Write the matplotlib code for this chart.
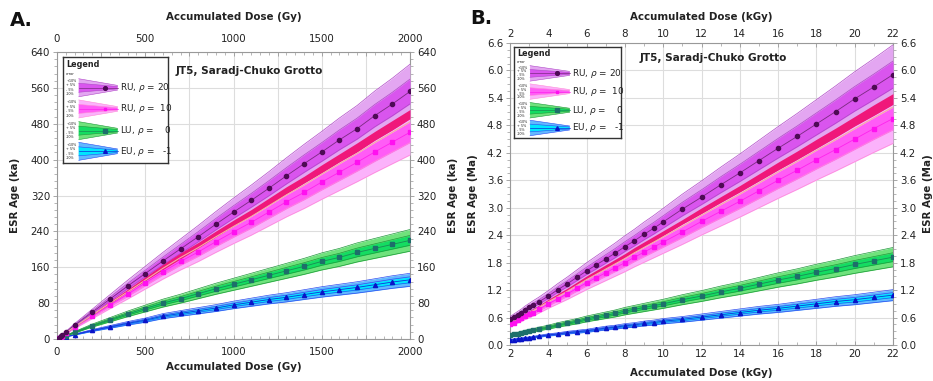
import matplotlib.pyplot as plt
import numpy as np
from matplotlib.patches import Polygon
from matplotlib.ticker import MultipleLocator, FuncFormatter

plt.rcParams['font.family'] = ['DejaVu Sans']

# ---- panel A data (dose in Gy, age in ka) ----
dose_gy = [0, 10, 20, 30, 50, 100, 200, 300, 400, 500, 600, 700, 800, 900, 1000,
           1100, 1200, 1300, 1400, 1500, 1600, 1700, 1800, 1900, 2000]
a_ru20 = [0, 3, 6, 9, 15, 31, 60, 89, 118, 146, 174, 201, 228, 256, 283,
          309, 336, 364, 391, 417, 444, 469, 498, 524, 552]
a_ru10 = [0, 2.5, 5, 7.5, 13, 26, 51, 76, 100, 125, 150, 173, 194, 217, 239,
          260, 283, 306, 327, 350, 372, 394, 417, 439, 461]
a_lu = [0, 1.5, 3, 4.5, 7.5, 15, 30, 43, 56, 68, 80, 90, 101, 112, 122,
        132, 142, 152, 162, 173, 182, 193, 202, 211, 220]
a_eu = [0, 1, 2, 3, 5, 10, 19, 27, 35, 42, 51, 57, 63, 69, 76,
        82, 88, 93, 99, 105, 110, 115, 121, 127, 132]

# ---- panel B data (dose in kGy, age in Ma) ----
dose_kgy = [2.0, 2.2, 2.4, 2.6, 2.8, 3.0, 3.2, 3.5, 4.0, 4.5, 5.0, 5.5, 6.0, 6.5, 7.0,
            7.5, 8.0, 8.5, 9.0, 9.5, 10, 11, 12, 13, 14, 15, 16, 17, 18, 19, 20, 21, 22]
b_ru20 = [0.56, 0.61, 0.66, 0.71, 0.77, 0.82, 0.87, 0.94, 1.07, 1.21, 1.34, 1.48, 1.62,
          1.75, 1.88, 2.01, 2.15, 2.28, 2.42, 2.55, 2.69, 2.97, 3.23, 3.50, 3.76, 4.03,
          4.30, 4.56, 4.83, 5.10, 5.38, 5.64, 5.91]
b_ru10 = [0.45, 0.49, 0.54, 0.58, 0.63, 0.67, 0.71, 0.78, 0.90, 1.01, 1.12, 1.24, 1.36,
          1.47, 1.58, 1.69, 1.80, 1.92, 2.03, 2.14, 2.25, 2.47, 2.70, 2.92, 3.14, 3.37,
          3.60, 3.82, 4.05, 4.27, 4.50, 4.73, 4.95]
b_lu = [0.22, 0.24, 0.25, 0.27, 0.29, 0.31, 0.32, 0.35, 0.39, 0.44, 0.48, 0.52, 0.57,
        0.61, 0.65, 0.69, 0.74, 0.78, 0.82, 0.86, 0.90, 0.99, 1.07, 1.16, 1.24, 1.33,
        1.42, 1.50, 1.59, 1.67, 1.76, 1.84, 1.92]
b_eu = [0.11, 0.12, 0.13, 0.14, 0.15, 0.16, 0.17, 0.19, 0.22, 0.24, 0.27, 0.29, 0.31,
        0.34, 0.37, 0.39, 0.42, 0.44, 0.47, 0.49, 0.52, 0.56, 0.61, 0.66, 0.71, 0.76,
        0.80, 0.85, 0.90, 0.95, 0.99, 1.04, 1.09]

labels = ['RU, $\\rho$ = 20', 'RU, $\\rho$ =  10', 'LU, $\\rho$ =    0', 'EU, $\\rho$ =   -1']
err_labels = ['+10%', '+ 5%', '- 5%', '-10%']

# style per model: outer band, inner band, edge line, centre line, marker colour, marker
styles = [
    dict(outer='#e3a6f1', inner='#d955ee', edge='#b048c8', line='#7a2a80', mc='#4e0a55', m='o', ms=3.0),
    dict(outer='#fbb2fb', inner='#ff5cf6', edge='#ff8ad8', line='#ff22ee', mc='#ff10f0', m='s', ms=2.2),
    dict(outer='#6fe27c', inner='#14dc62', edge='#1f9a3a', line='#1b8a55', mc='#1d6f6a', m='s', ms=2.8),
    dict(outer='#62b8ff', inner='#00e6ff', edge='#2c4cf0', line='#1230d8', mc='#0a14c8', m='^', ms=3.0),
]
hi10, hi5, lo5, lo10 = 1.11, 1.05, 0.95, 0.89
stripe_col = '#f0177a'
txt = '#222222'


def draw_series(ax, x, y, st, z):
    x = np.asarray(x)
    y = np.asarray(y)
    ax.fill_between(x, y * lo10, y * hi10, color=st['outer'], lw=0, zorder=z)
    ax.fill_between(x, y * lo5, y * hi5, color=st['inner'], lw=0, zorder=z + 0.1)
    for f in (lo10, lo5, hi5, hi10):
        ax.plot(x, y * f, color=st['edge'], lw=0.5, zorder=z + 0.2)
    ax.plot(x, y, color=st['line'], lw=0.6, zorder=z + 0.3)
    ax.plot(x, y, ls='none', marker=st['m'], ms=st['ms'], color=st['mc'],
            mec=st['mc'], zorder=10)


def style_axes(ax, xlim, ylim, xgrid, xlab_every, xminor, ygrid, yminor, yfmt, xlabel, ylabel,
               pads, xpad):
    ax.set_xlim(*xlim)
    ax.set_ylim(*ylim)
    ax.xaxis.set_major_locator(MultipleLocator(xgrid))
    ax.xaxis.set_minor_locator(MultipleLocator(xminor))
    ax.yaxis.set_major_locator(MultipleLocator(ygrid))
    ax.yaxis.set_minor_locator(MultipleLocator(yminor))
    ax.xaxis.set_major_formatter(FuncFormatter(
        lambda v, p: ('%g' % v) if abs(v / xlab_every - round(v / xlab_every)) < 1e-6 else ''))
    ax.yaxis.set_major_formatter(FuncFormatter(lambda v, p: yfmt % v))
    ax.grid(True, color='#dddddd', lw=0.8, zorder=0)
    ax.set_axisbelow(True)
    ax.tick_params(axis='x', which='both', direction='in', top=True, bottom=True,
                   labeltop=True, labelbottom=True, labelsize=7.4, colors='#999999',
                   labelcolor=txt, pad=xpad)
    ax.tick_params(axis='y', which='both', direction='out', left=True, right=True,
                   labelleft=True, labelright=True, labelsize=7.4, colors='#999999',
                   labelcolor=txt, pad=2)
    ax.tick_params(which='major', length=3, width=0.6)
    ax.tick_params(which='minor', length=2, width=0.5)
    for s in ax.spines.values():
        s.set_color('#999999')
        s.set_linewidth(0.8)
    top, bottom, left, right = pads
    kw = dict(xycoords='axes fraction', textcoords='offset points', fontsize=7.4,
              fontweight='bold', color=txt, ha='center', va='center')
    ax.annotate(xlabel, (0.5, 1), xytext=(0, top), **kw)
    ax.annotate(xlabel, (0.5, 0), xytext=(0, -bottom), **kw)
    ax.annotate(ylabel, (0, 0.5), xytext=(-left, 0), rotation=90, **kw)
    ax.annotate(ylabel, (1, 0.5), xytext=(right, 0), rotation=90, annotation_clip=False, **kw)


def draw_legend(fig, rect):
    lg = fig.add_axes(rect)
    lg.set_xlim(0, 1)
    lg.set_ylim(0, 1)
    lg.set_xticks([])
    lg.set_yticks([])
    lg.set_facecolor('white')
    for s in lg.spines.values():
        s.set_color('#333333')
        s.set_linewidth(1.0)
    lg.set_zorder(20)
    lg.text(0.03, 0.93, 'Legend', fontsize=5.8, fontweight='bold', color=txt, va='center')
    lg.text(0.03, 0.835, 'error', fontsize=2.6, color=txt, va='center')
    rows = [0.71, 0.51, 0.305, 0.11]
    x0, x1, xm = 0.15, 0.52, 0.40
    h0, h1 = 0.085, 0.022
    for yc, st, lab in zip(rows, styles, labels):
        for fa, fb, col in ((1.0, -1.0, st['outer']), (0.5, -0.5, st['inner'])):
            poly = Polygon([(x0, yc + h0 * fa), (x1, yc + h1 * fa), (x1, yc + h1 * fb),
                            (x0, yc + h0 * fb)], closed=True, fc=col, ec='none')
            lg.add_patch(poly)
        for f in (1.0, 0.5, -0.5, -1.0):
            lg.plot([x0, x1], [yc + h0 * f, yc + h1 * f], color=st['edge'], lw=0.4)
        lg.plot([x0, x1], [yc, yc], color=st['line'], lw=0.5)
        lg.plot([xm], [yc], marker=st['m'], ms=st['ms'] * 0.9, color=st['mc'], ls='none')
        for k, el in enumerate(err_labels):
            lg.text(0.03, yc + h0 * (0.75 - 0.5 * k), el, fontsize=2.4, color=txt, va='center')
        lg.text(x1 + 0.02, yc, lab, fontsize=6.4, color=txt, va='center')


fig = plt.figure(figsize=(9.33, 3.81), dpi=100)

# ---------------- panel A ----------------
axA = fig.add_axes([57 / 933, 1 - 339 / 381, 353 / 933, 287 / 381])
draw_series(axA, dose_gy, a_eu, styles[3], 1)
draw_series(axA, dose_gy, a_lu, styles[2], 2)
draw_series(axA, dose_gy, a_ru10, styles[1], 3)
draw_series(axA, dose_gy, a_ru20, styles[0], 4)
axA.fill_between(dose_gy, np.array(a_ru20) * lo10, np.array(a_ru10) * hi10,
                 color=stripe_col, lw=0, zorder=6)
axA.plot(dose_gy, np.array(a_ru10) * hi5, color='#f4b0a4', lw=0.8, zorder=6.1)
style_axes(axA, (0, 2000), (0, 640), 250, 500, 50, 80, 16, '%g',
           'Accumulated Dose (Gy)', 'ESR Age (ka)', (25, 20, 30, 31), 5.5)
axA.text(0.337, 0.934, 'JT5, Saradj-Chuko Grotto', transform=axA.transAxes, fontsize=7.6,
         fontweight='bold', color=txt, va='center', zorder=12)
draw_legend(fig, [63 / 933, 1 - 163 / 381, 105 / 933, 106 / 381])

# ---------------- panel B ----------------
axB = fig.add_axes([510 / 933, 1 - 345 / 381, 383 / 933, 302 / 381])
draw_series(axB, dose_kgy, b_eu, styles[3], 1)
draw_series(axB, dose_kgy, b_lu, styles[2], 2)
draw_series(axB, dose_kgy, b_ru10, styles[1], 3)
draw_series(axB, dose_kgy, b_ru20, styles[0], 4)
axB.fill_between(dose_kgy, np.array(b_ru20) * lo10, np.array(b_ru10) * hi10,
                 color=stripe_col, lw=0, zorder=6)
axB.plot(dose_kgy, np.array(b_ru10) * hi5, color='#f4b0a4', lw=0.8, zorder=6.1)
style_axes(axB, (2, 22), (0, 6.6), 2, 2, 1, 0.6, 0.15, '%.1f',
           'Accumulated Dose (kGy)', 'ESR Age (Ma)', (19, 20, 27, 25), 3)
axB.text(0.337, 0.95, 'JT5, Saradj-Chuko Grotto', transform=axB.transAxes, fontsize=7.6,
         fontweight='bold', color=txt, va='center', zorder=12)
draw_legend(fig, [514 / 933, 1 - 138 / 381, 107 / 933, 91 / 381])

fig.text(10 / 933, 1 - 20 / 381, 'A.', fontsize=14, fontweight='bold', color='#111111',
         va='center')
fig.text(470 / 933, 1 - 18 / 381, 'B.', fontsize=14, fontweight='bold', color='#111111',
         va='center')

fig.savefig('out.png', dpi=100)
